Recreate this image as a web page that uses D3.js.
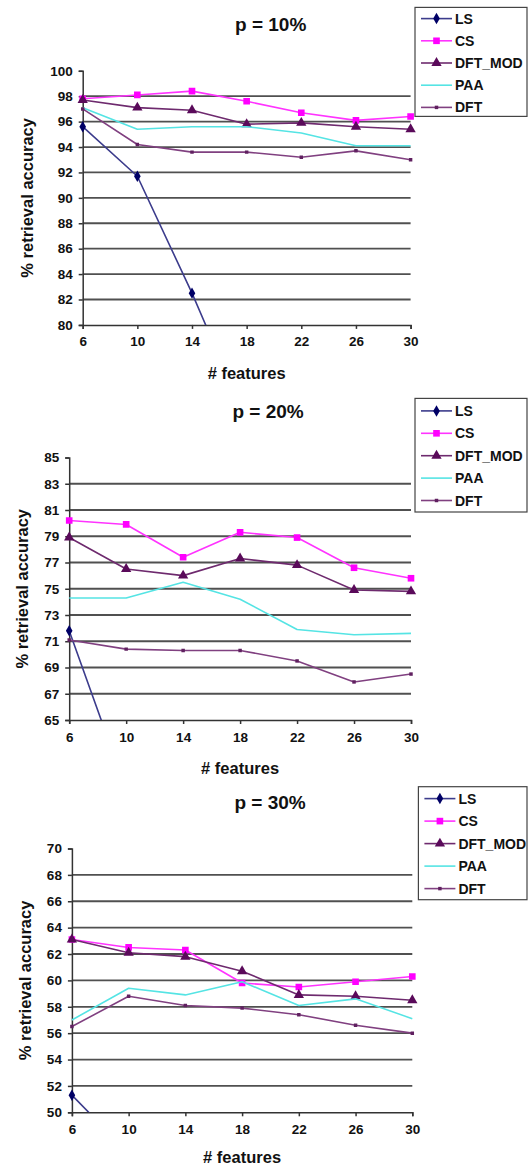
<!DOCTYPE html>
<html><head><meta charset="utf-8">
<script src="https://cdn.jsdelivr.net/npm/d3@7"></script>
<style>body{margin:0;background:#fff}svg{display:block}text{font-family:"Liberation Sans",Arial,sans-serif;font-weight:bold;fill:#111}</style>
</head><body>
<script>
const features = [6, 10, 14, 18, 22, 26, 30];
const seriesNames = ["LS", "CS", "DFT_MOD", "PAA", "DFT"];
const titles = ["p = 10%", "p = 20%", "p = 30%"];
const xLabel = "# features";
const yLabel = "% retrieval accuracy";

// p = 10%
const p10_LS      = [95.6, 91.7, 82.5, 72.5, 66, 62, 59];
const p10_CS      = [97.8, 98.1, 98.4, 97.6, 96.7, 96.1, 96.4];
const p10_DFT_MOD = [97.7, 97.1, 96.9, 95.8, 95.9, 95.6, 95.4];
const p10_PAA     = [97.1, 95.4, 95.6, 95.6, 95.1, 94.1, 94.1];
const p10_DFT     = [97.0, 94.2, 93.6, 93.6, 93.2, 93.7, 93.0];
const p10_ticks   = [80, 82, 84, 86, 88, 90, 92, 94, 96, 98, 100];

// p = 20%
const p20_LS      = [71.8, 59.7, 52, 47, 45, 43, 42];
const p20_CS      = [80.2, 79.9, 77.4, 79.3, 78.9, 76.6, 75.8];
const p20_DFT_MOD = [78.9, 76.5, 76.0, 77.3, 76.8, 74.9, 74.8];
const p20_PAA     = [74.3, 74.3, 75.5, 74.2, 71.9, 71.5, 71.6];
const p20_DFT     = [71.1, 70.4, 70.3, 70.3, 69.5, 67.9, 68.5];
const p20_ticks   = [65, 67, 69, 71, 73, 75, 77, 79, 81, 83, 85];

// p = 30%
const p30_LS      = [51.3, 46.9, 44, 42, 41, 40, 39];
const p30_CS      = [63.1, 62.5, 62.3, 59.8, 59.5, 59.9, 60.3];
const p30_DFT_MOD = [63.1, 62.1, 61.8, 60.7, 58.9, 58.8, 58.5];
const p30_PAA     = [57.0, 59.4, 58.9, 59.9, 58.1, 58.6, 57.1];
const p30_DFT     = [56.5, 58.8, 58.1, 57.9, 57.4, 56.6, 56.0];
const p30_ticks   = [50, 52, 54, 56, 58, 60, 62, 64, 66, 68, 70];

const panelData = [
  [p10_LS, p10_CS, p10_DFT_MOD, p10_PAA, p10_DFT],
  [p20_LS, p20_CS, p20_DFT_MOD, p20_PAA, p20_DFT],
  [p30_LS, p30_CS, p30_DFT_MOD, p30_PAA, p30_DFT]
];
const panelTicks = [p10_ticks, p20_ticks, p30_ticks];

// styles / layout
const styles = [
  {line: "#3c3c8c", fill: "#000066", sym: d3.symbolDiamond, size: 38},
  {line: "#ff33ff", fill: "#ff00ff", sym: d3.symbolSquare, size: 44},
  {line: "#6e2a6e", fill: "#5a0a5a", sym: d3.symbolTriangle, size: 46},
  {line: "#55e4e4", fill: null, sym: null, size: 0},
  {line: "#804080", fill: "#602060", sym: d3.symbolSquare, size: 12}
];
const layouts = [
  {left: 82.7, right: 410.6, top: 70.8, bottom: 324.9, titleY: 24, titleDx: 24, yLabX: 27, xLabDy: 48, legY: 7.4, legH: 109, legX: 415, entry0: 18.6, step: 22.2},
  {left: 69.2, right: 411, top: 457.5, bottom: 720, titleY: 411, titleDx: 28, yLabX: 22, xLabDy: 48, legY: 398.4, legH: 113.6, legX: 415, entry0: 410.9, step: 22.4},
  {left: 71.9, right: 412.3, top: 848.5, bottom: 1112.3, titleY: 802, titleDx: 28, yLabX: 25.3, xLabDy: 45, legY: 786.7, legH: 113, legX: 418.4, entry0: 798.6, step: 22.5}
];

const W = 529, H = 1167;
const svg = d3.select("body").append("svg").attr("width", W).attr("height", H);

layouts.forEach((L, pi) => {
  const ticks = panelTicks[pi];
  const yMin = d3.min(ticks), yMax = d3.max(ticks);
  const x = d3.scaleLinear().domain([6, 30]).range([L.left, L.right]);
  const y = d3.scaleLinear().domain([yMin, yMax]).range([L.bottom, L.top]);
  const g = svg.append("g");

  // gridlines
  g.selectAll("line.grid").data(ticks.filter(t => t !== yMin && t !== yMax)).enter()
    .append("line").attr("x1", L.left).attr("x2", L.right)
    .attr("y1", d => y(d)).attr("y2", d => y(d))
    .attr("stroke", "#505050").attr("stroke-width", 1.8);

  // y axis
  const ya = g.append("g").attr("transform", `translate(${L.left},0)`)
    .call(d3.axisLeft(y).tickValues(ticks).tickSize(4).tickPadding(6).tickFormat(d3.format("d")));
  ya.select(".domain").attr("stroke", "#333").attr("stroke-width", 1.5);
  ya.selectAll(".tick line").attr("stroke", "#333").attr("stroke-width", 1.5);
  ya.selectAll(".tick text").style("font-size", "13.5px").style("font-weight", "bold").attr("fill", "#111");

  // x axis
  const xa = g.append("g").attr("transform", `translate(0,${L.bottom})`)
    .call(d3.axisBottom(x).tickValues(features).tickSize(4).tickPadding(8).tickFormat(d3.format("d")));
  xa.select(".domain").attr("stroke", "#333").attr("stroke-width", 1.5);
  xa.selectAll(".tick line").attr("stroke", "#333").attr("stroke-width", 1.5);
  xa.selectAll(".tick text").style("font-size", "13.5px").style("font-weight", "bold").attr("fill", "#111");

  // clip
  const cid = "clip" + pi;
  svg.append("defs").append("clipPath").attr("id", cid).append("rect")
    .attr("x", L.left - 6).attr("y", L.top - 6).attr("width", L.right - L.left + 12).attr("height", L.bottom - L.top + 6);

  const lineGen = d3.line().x((d, i) => x(features[i])).y(d => y(d));
  const plot = g.append("g").attr("clip-path", `url(#${cid})`);
  panelData[pi].forEach((vals, si) => {
    const st = styles[si];
    plot.append("path").attr("d", lineGen(vals)).attr("fill", "none")
      .attr("stroke", st.line).attr("stroke-width", 1.6).attr("stroke-linejoin", "round");
    if (st.sym) {
      plot.selectAll(null).data(vals.map((v, i) => [features[i], v]).filter(d => d[1] >= yMin && d[1] <= yMax))
        .enter().append("path")
        .attr("transform", d => `translate(${x(d[0])},${y(d[1])})`)
        .attr("d", d3.symbol().type(st.sym).size(st.size))
        .attr("fill", st.fill);
    }
  });

  // title
  g.append("text").attr("x", (L.left + L.right) / 2 + L.titleDx).attr("y", L.titleY).attr("dy", "0.35em")
    .attr("text-anchor", "middle").style("font-size", "19px").text(titles[pi]);
  // y label
  g.append("text").attr("transform", `translate(${L.yLabX},${(L.top + L.bottom) / 2}) rotate(-90)`)
    .attr("dy", "0.35em").attr("text-anchor", "middle").style("font-size", "16.5px").text(yLabel);
  // x label
  g.append("text").attr("x", (L.left + L.right) / 2).attr("y", L.bottom + L.xLabDy).attr("dy", "0.35em")
    .attr("text-anchor", "middle").style("font-size", "16.5px").text(xLabel);

  // legend
  const lg = g.append("g");
  lg.append("rect").attr("x", L.legX).attr("y", L.legY).attr("width", 527 - L.legX).attr("height", L.legH)
    .attr("fill", "#fff").attr("stroke", "#444").attr("stroke-width", 1.2);
  seriesNames.forEach((name, si) => {
    const st = styles[si];
    const ey = L.entry0 + si * L.step;
    lg.append("line").attr("x1", L.legX + 6).attr("x2", L.legX + 37).attr("y1", ey).attr("y2", ey)
      .attr("stroke", st.line).attr("stroke-width", 1.6);
    if (st.sym) lg.append("path").attr("transform", `translate(${L.legX + 21.5},${ey})`)
      .attr("d", d3.symbol().type(st.sym).size(st.size)).attr("fill", st.fill);
    lg.append("text").attr("x", L.legX + 40).attr("y", ey).attr("dy", "0.36em")
      .style("font-size", "14px").text(name);
  });
});
</script>
</body></html>
